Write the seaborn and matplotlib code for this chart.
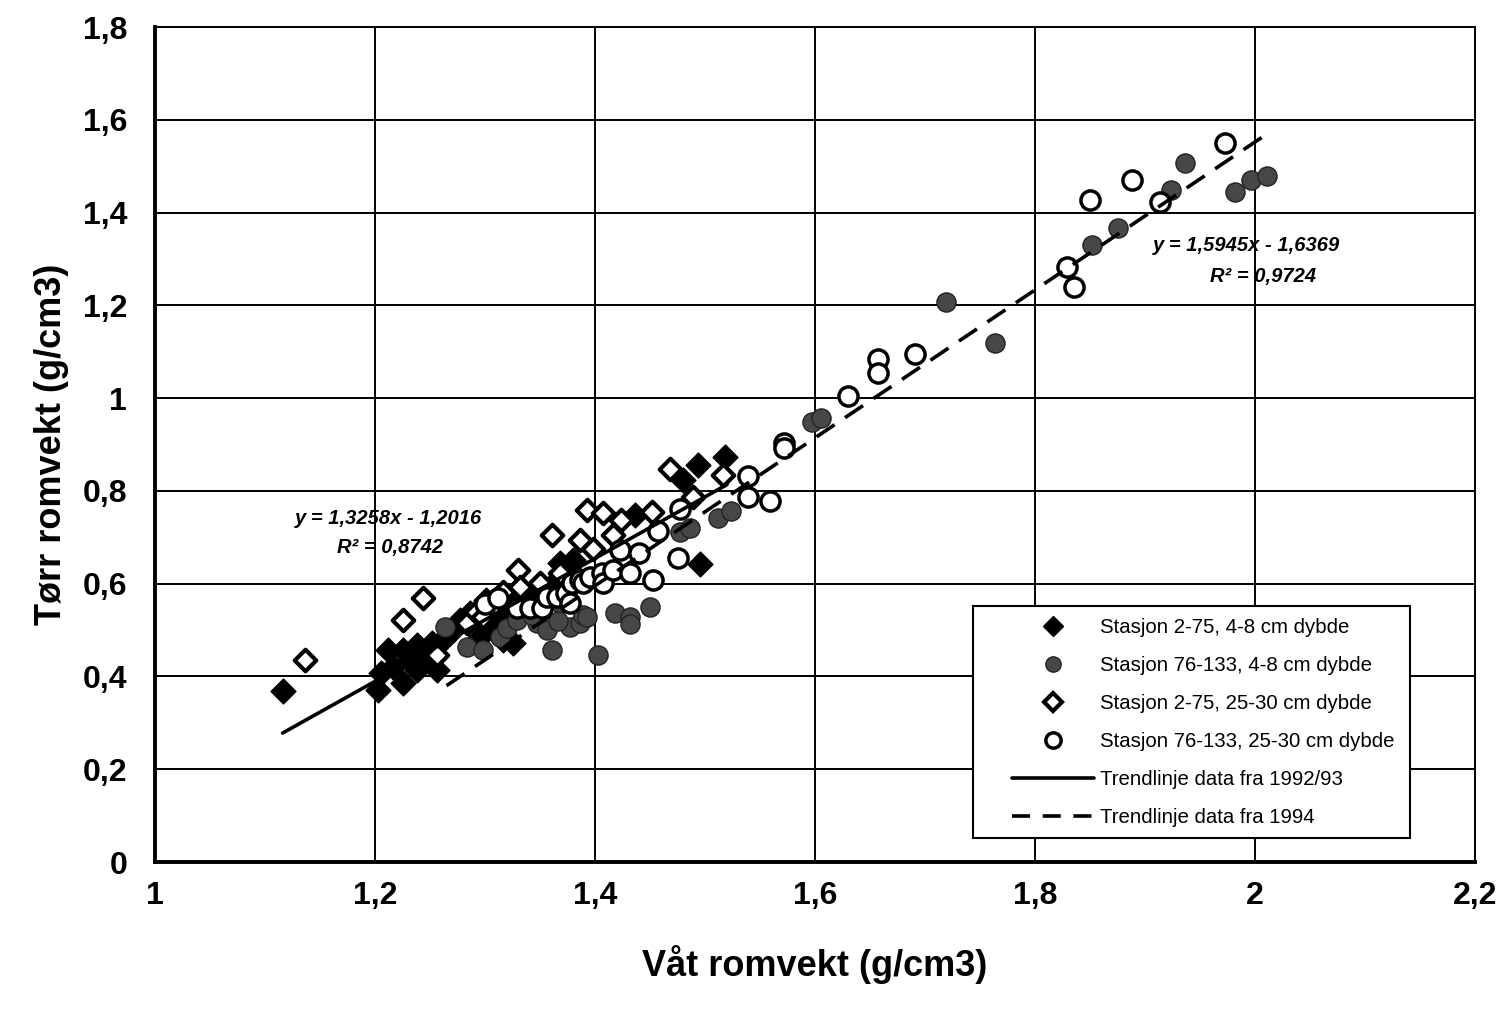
import matplotlib
matplotlib.use("Agg")
import matplotlib.pyplot as plt
from matplotlib.lines import Line2D
from matplotlib.patches import Rectangle
import numpy as np
import pandas as pd
import seaborn as sns

# Stasjon 2-75, 4-8 cm dybde
s1_x = [1.116, 1.203, 1.205, 1.212, 1.216, 1.225, 1.225, 1.232, 1.238, 1.238, 1.247, 1.252,
        1.256, 1.262, 1.271, 1.277, 1.286, 1.293, 1.295, 1.301, 1.305, 1.316, 1.316, 1.325,
        1.325, 1.341, 1.350, 1.359, 1.368, 1.380, 1.386, 1.436, 1.480, 1.494, 1.518, 1.495]
s1_y = [0.369, 0.371, 0.407, 0.457, 0.420, 0.457, 0.386, 0.435, 0.468, 0.414, 0.435, 0.472,
        0.414, 0.478, 0.500, 0.522, 0.537, 0.522, 0.485, 0.565, 0.507, 0.528, 0.478, 0.550,
        0.472, 0.565, 0.580, 0.593, 0.644, 0.651, 0.608, 0.748, 0.823, 0.856, 0.873, 0.642]

# Stasjon 76-133, 4-8 cm dybde
s2_x = [1.264, 1.284, 1.298, 1.314, 1.320, 1.329, 1.335, 1.347, 1.356, 1.361, 1.368, 1.377,
        1.386, 1.389, 1.393, 1.403, 1.418, 1.432, 1.432, 1.450, 1.477, 1.486, 1.512, 1.524,
        1.597, 1.605, 1.719, 1.764, 1.852, 1.875, 1.924, 1.936, 1.982, 1.996, 2.011, 1.300,
        1.343, 1.366]
s2_y = [0.507, 0.463, 0.457, 0.485, 0.504, 0.522, 0.550, 0.515, 0.500, 0.457, 0.558, 0.506,
        0.515, 0.532, 0.528, 0.446, 0.537, 0.528, 0.513, 0.550, 0.711, 0.720, 0.741, 0.757,
        0.948, 0.957, 1.207, 1.119, 1.330, 1.366, 1.448, 1.506, 1.444, 1.470, 1.479, 0.539,
        0.533, 0.520]

# Stasjon 2-75, 25-30 cm dybde
s3_x = [1.136, 1.225, 1.244, 1.256, 1.284, 1.292, 1.298, 1.316, 1.330, 1.332, 1.350, 1.361,
        1.368, 1.386, 1.393, 1.398, 1.407, 1.416, 1.424, 1.452, 1.468, 1.489, 1.516]
s3_y = [0.435, 0.522, 0.569, 0.446, 0.515, 0.539, 0.528, 0.582, 0.629, 0.593, 0.601, 0.705,
        0.623, 0.694, 0.759, 0.675, 0.752, 0.705, 0.737, 0.754, 0.847, 0.787, 0.834]

# Stasjon 76-133, 25-30 cm dybde
s4_x = [1.300, 1.312, 1.329, 1.341, 1.352, 1.356, 1.365, 1.374, 1.377, 1.379, 1.386, 1.389,
        1.395, 1.406, 1.407, 1.416, 1.423, 1.432, 1.440, 1.453, 1.457, 1.475, 1.477, 1.539,
        1.539, 1.559, 1.572, 1.572, 1.630, 1.657, 1.657, 1.691, 1.829, 1.835, 1.850, 1.888,
        1.914, 1.973]
s4_y = [0.556, 0.570, 0.547, 0.547, 0.547, 0.571, 0.571, 0.580, 0.558, 0.601, 0.608, 0.601,
        0.614, 0.623, 0.601, 0.629, 0.672, 0.623, 0.666, 0.607, 0.713, 0.655, 0.761, 0.832,
        0.787, 0.778, 0.903, 0.892, 1.004, 1.084, 1.054, 1.095, 1.283, 1.240, 1.427, 1.470,
        1.423, 1.550]

# Trend lines: slope, intercept and x-range
trend1 = (1.3258, -1.2016, 1.116, 1.52)
trend2 = (1.5945, -1.6369, 1.265, 2.012)

x_ticks = [1.0, 1.2, 1.4, 1.6, 1.8, 2.0, 2.2]
x_ticklabels = ["1", "1,2", "1,4", "1,6", "1,8", "2", "2,2"]
y_ticks = [0.0, 0.2, 0.4, 0.6, 0.8, 1.0, 1.2, 1.4, 1.6, 1.8]
y_ticklabels = ["0", "0,2", "0,4", "0,6", "0,8", "1", "1,2", "1,4", "1,6", "1,8"]

labels = ["Stasjon 2-75, 4-8 cm dybde", "Stasjon 76-133, 4-8 cm dybde",
          "Stasjon 2-75, 25-30 cm dybde", "Stasjon 76-133, 25-30 cm dybde",
          "Trendlinje data fra 1992/93", "Trendlinje data fra 1994"]

sns.set_style("white")
plt.rcParams["font.family"] = ["Liberation Sans", "DejaVu Sans"]
plt.rcParams["text.color"] = "black"
plt.rcParams["axes.labelcolor"] = "black"
plt.rcParams["xtick.color"] = "black"
plt.rcParams["ytick.color"] = "black"

W, H = 1505, 1013
L, R, T, B = 155, 1475, 27, 862
fig = plt.figure(figsize=(W / 100, H / 100), dpi=100)
ax = fig.add_axes([L / W, 1 - B / H, (R - L) / W, (B - T) / H])

gray = "#474747"
sns.scatterplot(x=s1_x, y=s1_y, marker="D", s=160, color="black", edgecolor="black",
                linewidth=1, ax=ax, zorder=3)
sns.scatterplot(x=s2_x, y=s2_y, marker="o", s=190, color=gray, edgecolor="#222222",
                linewidth=1, ax=ax, zorder=3)
sns.scatterplot(x=s3_x, y=s3_y, marker="D", s=120, color="white", edgecolor="black",
                linewidth=3, ax=ax, zorder=3)
sns.scatterplot(x=s4_x, y=s4_y, marker="o", s=190, color="white", edgecolor="black",
                linewidth=2.5, ax=ax, zorder=3)

for (a, b, x0, x1), ls in [(trend1, "-"), (trend2, (0, (6, 3.5)))]:
    tx = np.array([x0, x1])
    df = pd.DataFrame({"x": tx, "y": a * tx + b})
    sns.lineplot(data=df, x="x", y="y", color="black", linewidth=2.6, linestyle=ls,
                 ax=ax, zorder=4)

ax.set_xlim(1.0, 2.2)
ax.set_ylim(0.0, 1.8)
ax.set_xticks(x_ticks)
ax.set_xticklabels(x_ticklabels)
ax.set_yticks(y_ticks)
ax.set_yticklabels(y_ticklabels)
ax.grid(True, color="black", linewidth=1.4)
ax.set_axisbelow(True)
for side in ["top", "right"]:
    ax.spines[side].set_visible(True)
    ax.spines[side].set_linewidth(1.4)
    ax.spines[side].set_color("black")
for side in ["left", "bottom"]:
    ax.spines[side].set_linewidth(2.8)
    ax.spines[side].set_color("black")

ax.tick_params(axis="both", which="major", direction="out", length=7, width=1.3,
               color="black", labelsize=23, labelcolor="black")
ax.tick_params(axis="x", pad=7)
ax.tick_params(axis="y", pad=13)
for t in ax.get_xticklabels() + ax.get_yticklabels():
    t.set_fontweight("bold")

ax.set_xlabel("Våt romvekt (g/cm3)", fontsize=26, fontweight="bold", labelpad=24,
              color="black")
ax.set_ylabel("Tørr romvekt (g/cm3)", fontsize=26, fontweight="bold", labelpad=10,
              color="black")

eq_kw = dict(fontsize=14.5, fontweight="bold", fontstyle="italic", ha="center",
             va="center", zorder=5, color="black")
ax.text(1.212, 0.741, "y = 1,3258x - 1,2016", **eq_kw)
ax.text(1.214, 0.677, "R² = 0,8742", **eq_kw)
ax.text(1.992, 1.328, "y = 1,5945x - 1,6369", **eq_kw)
ax.text(2.007, 1.263, "R² = 0,9724", **eq_kw)

# legend frame
lx0, lx1, ly0, ly1 = 973, 1410, 606, 838
ax.add_patch(Rectangle(((lx0 - L) / (R - L), (B - ly1) / (B - T)),
                       (lx1 - lx0) / (R - L), (ly1 - ly0) / (B - T),
                       transform=ax.transAxes, facecolor="white", edgecolor="black",
                       linewidth=1.5, zorder=6))

handles = [
    Line2D([], [], marker="D", linestyle="none", markersize=10, markerfacecolor="black",
           markeredgecolor="black"),
    Line2D([], [], marker="o", linestyle="none", markersize=11, markerfacecolor=gray,
           markeredgecolor="#222222"),
    Line2D([], [], marker="D", linestyle="none", markersize=9, markerfacecolor="white",
           markeredgecolor="black", markeredgewidth=3),
    Line2D([], [], marker="o", linestyle="none", markersize=11, markerfacecolor="white",
           markeredgecolor="black", markeredgewidth=2.5),
    Line2D([], [], color="black", linewidth=2.6),
    Line2D([], [], color="black", linewidth=2.6, linestyle=(0, (5, 3.5))),
]
leg = ax.legend(handles, labels, loc="upper left",
                bbox_to_anchor=((1012 - L) / (R - L), (B - 618) / (B - T)),
                frameon=False, fontsize=14.7, handlelength=4.0, handletextpad=0.3,
                labelspacing=0.93, borderpad=0, borderaxespad=0)
for txt in leg.get_texts():
    txt.set_color("black")
leg.set_zorder(7)

fig.savefig("out.png", dpi=100, facecolor="white")
